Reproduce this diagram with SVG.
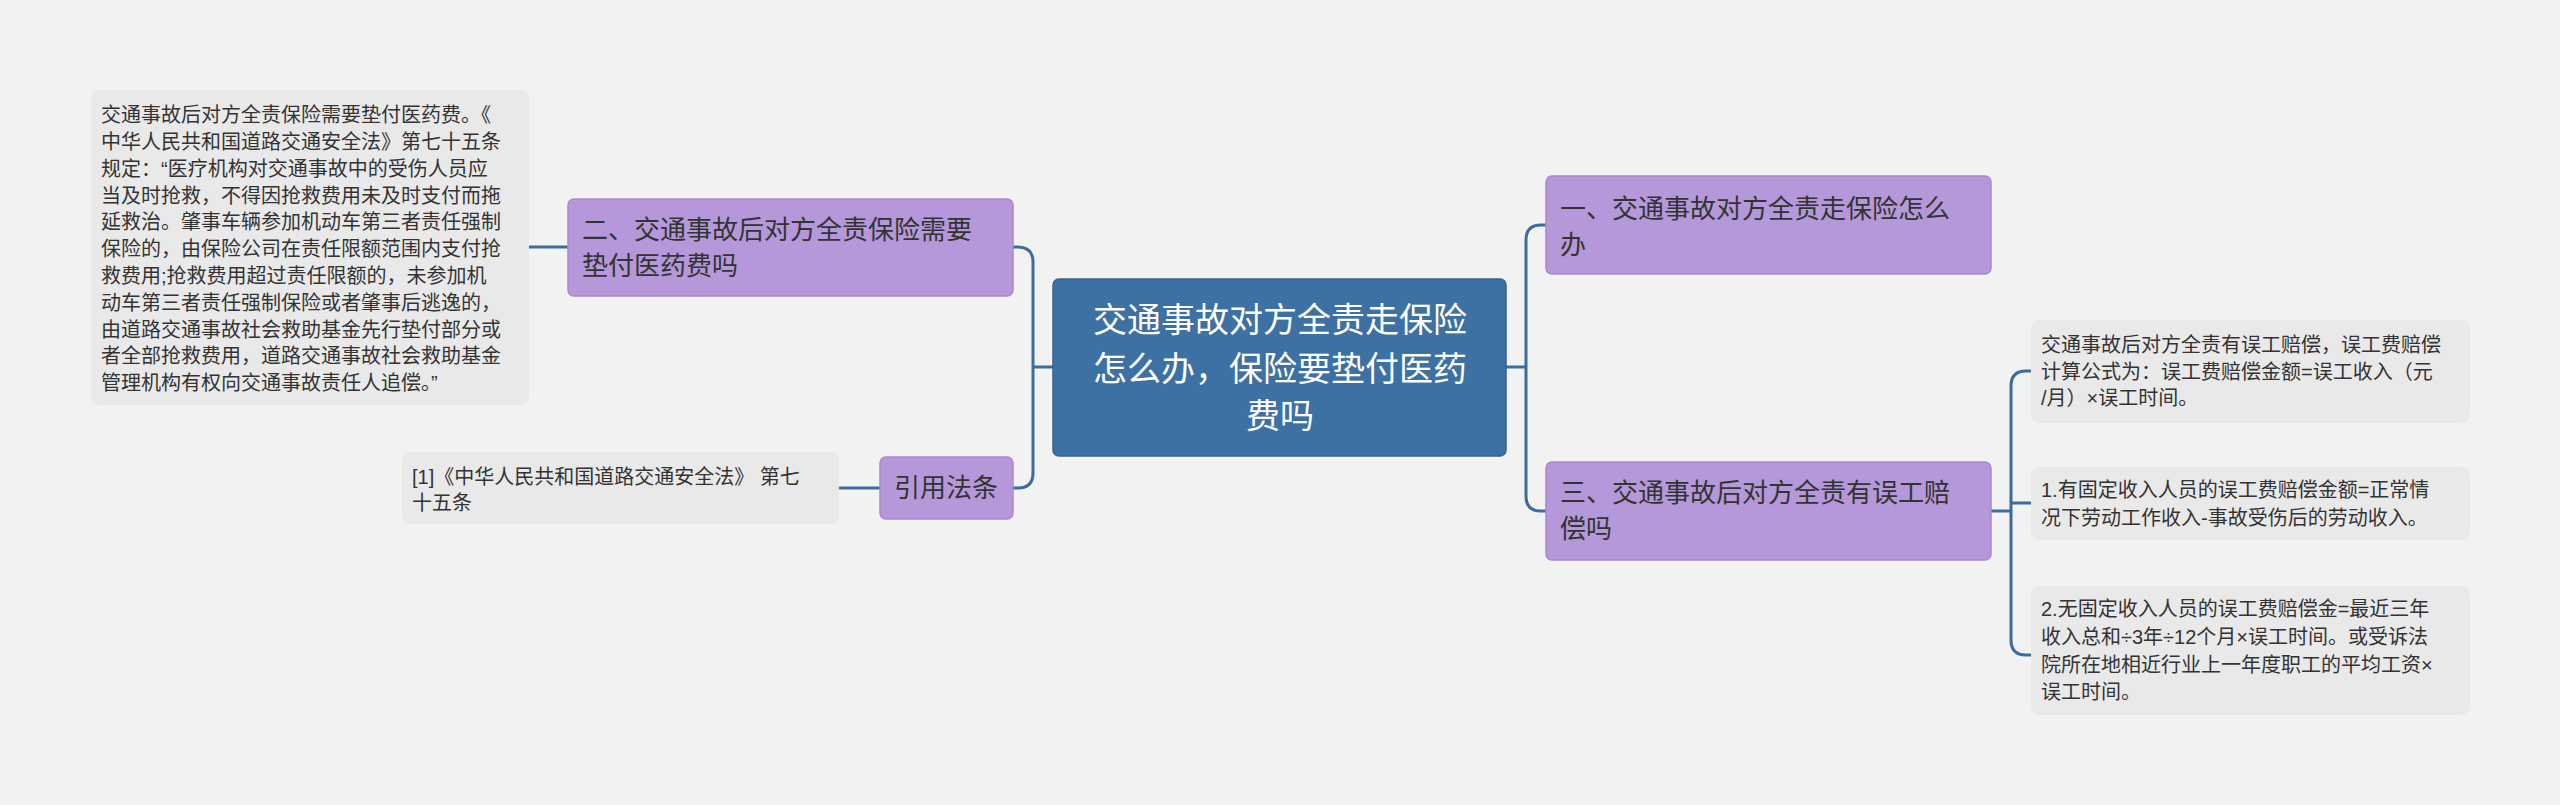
<svg xmlns="http://www.w3.org/2000/svg" width="2560" height="805" viewBox="0 0 2560 805">
<style>
text{font-family:"Liberation Sans","Noto Sans CJK SC",sans-serif;fill:#333}
.leaf{fill:#e9e9e9}
.br{fill:#b598d9;stroke:#a888cf;stroke-width:1.5}
.t20{font-size:20px}
.t26{font-size:26px}
.c{fill:none;stroke:#3b6c9e;stroke-width:3}
</style>
<rect width="2560" height="805" fill="#f2f2f2"/>
<g id="connectors">
<path class="c" d="M1053 367 H1033 M1033 367 V262 Q1033 247 1018 247 H1013 M1033 367 V473 Q1033 488 1018 488 H1013"/>
<path class="c" d="M529 247 H568 M839 488 H880"/>
<path class="c" d="M1506 367 H1526 M1526 367 V240 Q1526 225 1541 225 H1546 M1526 367 V496 Q1526 511 1541 511 H1546"/>
<path class="c" d="M1991 511 H2011 M2011 511 V386 Q2011 371 2026 371 H2031 M2011 511 V503 H2031 M2011 511 V640 Q2011 655 2026 655 H2031"/>
</g>
<g id="center">
<rect x="1053" y="279" width="453" height="177" rx="6" fill="#3d70a3" stroke="#35638f" stroke-width="1.5"/>
<text x="1280" y="332" text-anchor="middle" font-size="34" style="fill:#fff">交通事故对方全责走保险</text>
<text x="1280" y="381" text-anchor="middle" font-size="34" style="fill:#fff">怎么办，保险要垫付医药</text>
<text x="1280" y="428" text-anchor="middle" font-size="34" style="fill:#fff">费吗</text>
</g>
<g id="n2">
<rect class="br" x="568" y="199" width="445" height="97" rx="6"/>
<text class="t26" x="582" y="239">二、交通事故后对方全责保险需要</text>
<text class="t26" x="582" y="275">垫付医药费吗</text>
</g>
<g id="n2leaf">
<rect class="leaf" x="91" y="90" width="438" height="315" rx="8"/>
<text class="t20" x="101" y="122">交通事故后对方全责保险需要垫付医药费。《</text>
<text class="t20" x="101" y="149">中华人民共和国道路交通安全法》第七十五条</text>
<text class="t20" x="101" y="176">规定：“医疗机构对交通事故中的受伤人员应</text>
<text class="t20" x="101" y="203">当及时抢救，不得因抢救费用未及时支付而拖</text>
<text class="t20" x="101" y="229">延救治。肇事车辆参加机动车第三者责任强制</text>
<text class="t20" x="101" y="256">保险的，由保险公司在责任限额范围内支付抢</text>
<text class="t20" x="101" y="283">救费用;抢救费用超过责任限额的，未参加机</text>
<text class="t20" x="101" y="310">动车第三者责任强制保险或者肇事后逃逸的，</text>
<text class="t20" x="101" y="337">由道路交通事故社会救助基金先行垫付部分或</text>
<text class="t20" x="101" y="363">者全部抢救费用，道路交通事故社会救助基金</text>
<text class="t20" x="101" y="390">管理机构有权向交通事故责任人追偿。”</text>
</g>
<g id="ref">
<rect class="br" x="880" y="457" width="133" height="62" rx="6"/>
<text class="t26" x="946" y="497" text-anchor="middle">引用法条</text>
</g>
<g id="refleaf">
<rect class="leaf" x="402" y="452" width="437" height="72" rx="8"/>
<text class="t20" x="412" y="484">[1]《中华人民共和国道路交通安全法》 第七</text>
<text class="t20" x="412" y="510">十五条</text>
</g>
<g id="n1">
<rect class="br" x="1546" y="176" width="445" height="98" rx="6"/>
<text class="t26" x="1560" y="218">一、交通事故对方全责走保险怎么</text>
<text class="t26" x="1560" y="254">办</text>
</g>
<g id="n3">
<rect class="br" x="1546" y="462" width="445" height="98" rx="6"/>
<text class="t26" x="1560" y="502">三、交通事故后对方全责有误工赔</text>
<text class="t26" x="1560" y="538">偿吗</text>
</g>
<g id="n3a">
<rect class="leaf" x="2031" y="320" width="439" height="103" rx="8"/>
<text class="t20" x="2041" y="352">交通事故后对方全责有误工赔偿，误工费赔偿</text>
<text class="t20" x="2041" y="379">计算公式为：误工费赔偿金额=误工收入（元</text>
<text class="t20" x="2041" y="405">/月）×误工时间。</text>
</g>
<g id="n3b">
<rect class="leaf" x="2031" y="467" width="439" height="73" rx="8"/>
<text class="t20" x="2041" y="497">1.有固定收入人员的误工费赔偿金额=正常情</text>
<text class="t20" x="2041" y="525">况下劳动工作收入-事故受伤后的劳动收入。</text>
</g>
<g id="n3c">
<rect class="leaf" x="2031" y="586" width="439" height="129" rx="8"/>
<text class="t20" x="2041" y="616">2.无固定收入人员的误工费赔偿金=最近三年</text>
<text class="t20" x="2041" y="644">收入总和÷3年÷12个月×误工时间。或受诉法</text>
<text class="t20" x="2041" y="672">院所在地相近行业上一年度职工的平均工资×</text>
<text class="t20" x="2041" y="699">误工时间。</text>
</g>
</svg>
